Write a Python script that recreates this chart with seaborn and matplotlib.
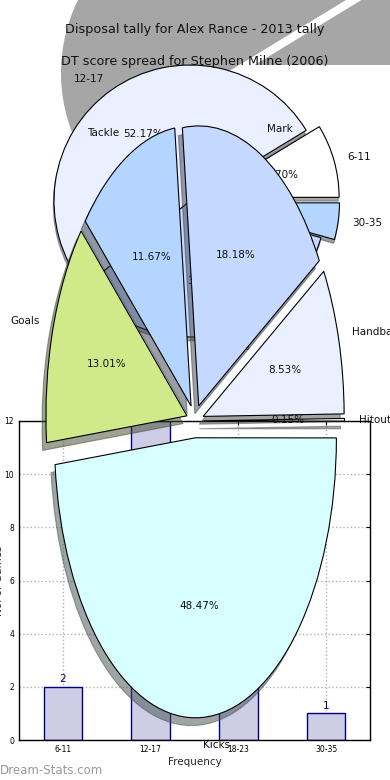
import matplotlib
matplotlib.use("Agg")
import matplotlib.pyplot as plt
import seaborn as sns
import numpy as np

# ---- data ----
dt_ranges = ["6-11", "12-17", "18-23", "30-35"]
dt_counts = [2, 12, 8, 1]

disp_labels = ["Kicks", "Hitouts", "Handballs", "Mark", "Tackle", "Goals"]
disp_pcts = [48.47, 0.15, 8.53, 18.18, 11.67, 13.01]

title_disp = "Disposal tally for Alex Rance - 2013 tally"
title_dt = "DT score spread for Stephen Milne (2006)"
xlabel_bar = "Frequency"
ylabel_bar = "No. of Games"
watermark = "Dream-Stats.com"

sns.set_style("white")
plt.rcParams['font.family'] = ['DejaVu Sans']

W, H = 390, 780
fig = plt.figure(figsize=(W / 100, H / 100), dpi=100)


def px_axes(left, top, width, height):
    return fig.add_axes([left / W, (H - top - height) / H, width / W, height / H])


# ---- gray background pie (shadow-like) ----
r_g = 165
axg = px_axes(226 - 1.25 * r_g, 73 - 1.25 * r_g, 2.5 * r_g, 2.5 * r_g)
axg.pie(dt_counts, colors=['#a6a6a6', '#a6a6a6', 'none', 'none'],
        explode=[0.18, 0, 0, 0], startangle=0, counterclock=True,
        wedgeprops=dict(linewidth=0))
axg.set_aspect('auto')
axg.set_xlim(-1.25, 1.25)
axg.set_ylim(-1.25, 1.25)
axg.set_zorder(0)
axg.patch.set_alpha(0)

# ---- DT score pie ----
r_d = 136
axd = px_axes(190 - 1.25 * r_d, 201 - 1.25 * r_d, 2.5 * r_d, 2.5 * r_d)
axd.pie(dt_counts, labels=dt_ranges,
        colors=['white', '#eaf0ff', '#c5d8ff', '#b3d5ff'],
        explode=[0.1, 0, 0, 0.1], startangle=0, counterclock=True,
        autopct='%.2f%%', pctdistance=0.6, labeldistance=1.1,
        shadow={'ox': -0.004, 'oy': -0.02},
        wedgeprops=dict(edgecolor='black', linewidth=0.8),
        textprops=dict(fontsize=7.5, color='#111111'))
axd.set_aspect('auto')
axd.set_xlim(-1.25, 1.25)
axd.set_ylim(-1.25, 1.25)
axd.set_zorder(1)
axd.patch.set_alpha(0)

# ---- bar chart ----
axb = px_axes(19, 421, 351, 319)
sns.barplot(x=dt_ranges, y=dt_counts, ax=axb, color='#cdcde6', saturation=1,
            edgecolor='#000080', linewidth=1.0, width=0.44)
axb.set_xlim(-0.5, 3.5)
axb.set_ylim(0, 12)
axb.set_yticks(range(0, 13, 2))
axb.grid(True, linestyle=':', color='#b0b0b0', linewidth=1.0)
axb.set_axisbelow(True)
for c in axb.containers:
    axb.bar_label(c, color='#000080', fontsize=7.5, padding=2)
axb.tick_params(axis='both', labelsize=5.5, direction='in', length=3,
                colors='black', top=True, right=True)
for s in axb.spines.values():
    s.set_color('black')
    s.set_linewidth(1.0)
axb.set_xlabel(xlabel_bar, fontsize=7.5, labelpad=2)
axb.set_ylabel(ylabel_bar, fontsize=7.5)
axb.yaxis.set_label_coords(-0.043, 0.5)
axb.set_zorder(2)
axb.patch.set_alpha(0)

# ---- disposal pie (stretched) ----
rx, ry = 141, 280
axp = px_axes(195 - 1.25 * rx, 421 - 1.25 * ry, 2.5 * rx, 2.5 * ry)
axp.pie(disp_pcts, labels=disp_labels,
        colors=['#d8ffff', 'white', '#eaf0ff', '#c5d8ff', '#b3d5ff', '#d0ea8a'],
        explode=[0.06] * len(disp_pcts), startangle=-174.5, counterclock=True,
        autopct='%.2f%%', pctdistance=0.6, labeldistance=1.1, shadow=True,
        wedgeprops=dict(edgecolor='black', linewidth=0.8),
        textprops=dict(fontsize=7.5, color='#111111'))
axp.set_aspect('auto')
axp.set_xlim(-1.25, 1.25)
axp.set_ylim(-1.25, 1.25)
axp.set_zorder(3)
axp.patch.set_alpha(0)

# ---- titles & watermark ----
fig.text(195 / W, 1 - 30 / H, title_disp, ha='center', va='center',
         fontsize=9.2, color='#111111', zorder=10)
fig.text(195 / W, 1 - 61 / H, title_dt, ha='center', va='center',
         fontsize=9.2, color='#111111', zorder=10)
fig.text(0 / W, 1 - 771 / H, watermark, ha='left', va='center',
         fontsize=8.5, color='#999999', zorder=10)

fig.savefig("out.png", dpi=100)
